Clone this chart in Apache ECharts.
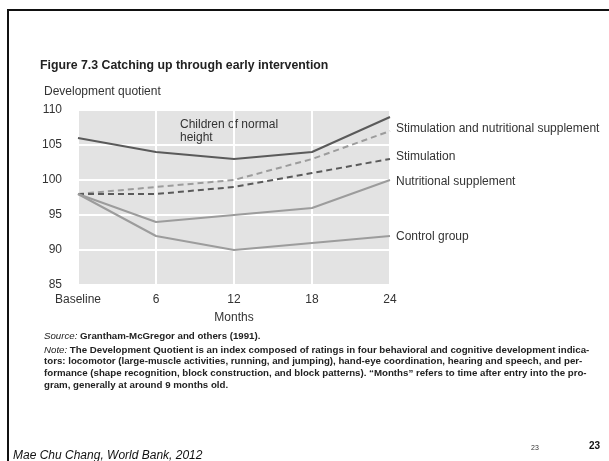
<!DOCTYPE html>
<html>
<head>
<meta charset="utf-8">
<style>
  html, body { margin: 0; padding: 0; background: #fff; }
  #chart { width: 609px; height: 461px; }
</style>
<script src="https://cdn.jsdelivr.net/npm/echarts@6/dist/echarts.min.js"></script>
</head>
<body>
<div id="chart"></div>
<script>
// data
var months = ['Baseline', '6', '12', '18', '24'];
var normalHeight = [106, 104, 103, 104, 109];
var stimNutrition = [98, 99, 100, 103, 107];
var stimulation = [98, 98, 99, 101, 103];
var nutrition = [98, 94, 95, 96, 100];
var control = [98, 92, 90, 91, 92];

var FONT = '"Liberation Sans", Arial, sans-serif';
var DARK = '#5a5a5a';
var LIGHT = '#9c9c9c';

var noteLines = [
    '{i|Note:} The Development Quotient is an index composed of ratings in four behavioral and cognitive development indica-',
    'tors: locomotor (large-muscle activities, running, and jumping), hand-eye coordination, hearing and speech, and per-',
    'formance (shape recognition, block construction, and block patterns). \u201cMonths\u201d refers to time after entry into the pro-',
    'gram, generally at around 9 months old.'
];

// 线条 + 末端标签
function makeLine(name, data, color, dashed, dy) {
    return {
        name: name,
        type: 'line',
        data: data,
        symbol: 'none',
        silent: true,
        lineStyle: { color: color, width: 2, type: dashed ? [6, 4] : 'solid' },
        endLabel: {
            show: dy !== null,
            formatter: '{a}',
            color: '#333',
            fontFamily: FONT,
            fontSize: 12,
            distance: 6,
            offset: [0, dy || 0]
        }
    };
}

var chart = echarts.init(document.getElementById('chart'));

var noteGraphics = noteLines.map(function (t, i) {
    return {
        type: 'text', left: 44, top: 345 + i * 11.7,
        style: {
            text: t, fill: '#222', font: '600 9.7px ' + FONT,
            rich: { i: { fontStyle: 'italic', fontWeight: 'normal', fontSize: 9.7, fontFamily: FONT, fill: '#222' } }
        }
    };
});

chart.setOption({
    animation: false,
    textStyle: { fontFamily: FONT },
    grid: {
        left: 78, right: 219, top: 110, bottom: 176,
        show: true, backgroundColor: '#e3e3e3', borderWidth: 0
    },
    xAxis: {
        type: 'category',
        data: months,
        boundaryGap: false,
        name: 'Months',
        nameLocation: 'middle',
        nameGap: 27,
        nameTextStyle: { color: '#333', fontSize: 12, fontFamily: FONT },
        axisLine: { show: false },
        axisTick: { show: false },
        axisLabel: { color: '#333', fontSize: 12, margin: 9, fontFamily: FONT },
        splitLine: { show: true, lineStyle: { color: '#fff', width: 2 } }
    },
    yAxis: {
        type: 'value',
        min: 85, max: 110, interval: 5,
        axisLine: { show: false },
        axisTick: { show: false },
        axisLabel: { color: '#333', fontSize: 12, margin: 16, fontFamily: FONT },
        splitLine: { show: true, lineStyle: { color: '#fff', width: 2 } }
    },
    series: [
        makeLine('Children of normal height', normalHeight, DARK, false, null),
        makeLine('Stimulation and nutritional supplement', stimNutrition, LIGHT, true, -2),
        makeLine('Stimulation', stimulation, DARK, true, -2),
        makeLine('Nutritional supplement', nutrition, LIGHT, false, 2),
        makeLine('Control group', control, LIGHT, false, 1)
    ],
    graphic: [
        // slide frame (top and left)
        { type: 'rect', shape: { x: 7, y: 9, width: 602, height: 2 }, style: { fill: '#111' } },
        { type: 'rect', shape: { x: 7, y: 9, width: 2, height: 452 }, style: { fill: '#111' } },
        {
            type: 'text', left: 40, top: 60,
            style: { text: 'Figure 7.3 Catching up through early intervention', fill: '#222', font: 'bold 12.3px ' + FONT }
        },
        {
            type: 'text', left: 44, top: 86,
            style: { text: 'Development quotient', fill: '#333', font: '12px ' + FONT }
        },
        {
            type: 'text', left: 180, top: 118,
            style: { text: 'Children of normal\nheight', fill: '#333', font: '12px ' + FONT, lineHeight: 13 }
        },
        {
            type: 'text', left: 44, top: 331,
            style: {
                text: '{i|Source:} Grantham-McGregor and others (1991).', fill: '#222', font: '600 9.7px ' + FONT,
                rich: { i: { fontStyle: 'italic', fontWeight: 'normal', fontSize: 9.7, fontFamily: FONT, fill: '#222' } }
            }
        }
    ].concat(noteGraphics).concat([
        {
            type: 'text', left: 13, top: 450,
            style: { text: 'Mae Chu Chang, World Bank, 2012', fill: '#111', font: 'italic 12px ' + FONT }
        },
        {
            type: 'text', left: 531, top: 445,
            style: { text: '23', fill: '#333', font: '7px ' + FONT }
        },
        {
            type: 'text', left: 589, top: 441,
            style: { text: '23', fill: '#111', font: 'bold 10px ' + FONT }
        }
    ])
});
</script>
</body>
</html>
